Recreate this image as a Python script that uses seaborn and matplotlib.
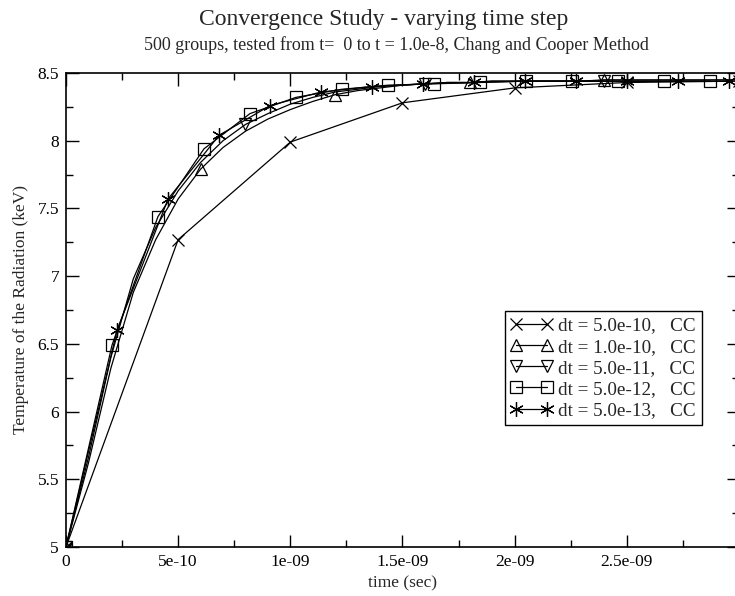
import numpy as np
import pandas as pd
import matplotlib
matplotlib.use("Agg")
import matplotlib.pyplot as plt
from matplotlib.lines import Line2D
from matplotlib.ticker import FixedLocator, MultipleLocator, FuncFormatter
import seaborn as sns

# --- data: radiation temperature (keV) vs time (s) for several time steps ---
t_dt1 = [0.0, 0.5e-9, 1.0e-9, 1.5e-9, 2.0e-9, 2.5e-9, 3.0e-9]
T_dt1 = [5.00, 7.27, 7.99, 8.28, 8.39, 8.43, 8.44]

t_dt2 = [i * 1.0e-10 for i in range(31)]
T_dt2 = [5.00, 5.62, 6.32, 6.88, 7.27, 7.57, 7.79, 7.95, 8.07, 8.16,
         8.23, 8.29, 8.34, 8.37, 8.39, 8.41, 8.42, 8.43, 8.43, 8.44,
         8.44, 8.44, 8.44, 8.44, 8.45, 8.45, 8.45, 8.45, 8.45, 8.45, 8.45]
mark_dt2 = [0, 6, 12, 18, 24]

t_dt3 = [i * 1.0e-10 for i in range(31)]
T_dt3 = [5.00, 5.66, 6.40, 6.98, 7.36, 7.63, 7.84, 8.00, 8.12, 8.20,
         8.27, 8.32, 8.36, 8.38, 8.40, 8.41, 8.42, 8.43, 8.43, 8.44,
         8.44, 8.44, 8.44, 8.44, 8.44, 8.44, 8.44, 8.44, 8.44, 8.44, 8.44]
mark_dt3 = [0, 8, 16, 24]

t_dt4 = [i * 2.05e-10 for i in range(15)]
T_dt4 = [5.00, 6.49, 7.44, 7.94, 8.20, 8.32, 8.38, 8.41, 8.42, 8.43,
         8.44, 8.44, 8.44, 8.44, 8.44]

t_dt5 = [i * 2.275e-10 for i in range(14)]
T_dt5 = [5.00, 6.60, 7.57, 8.04, 8.26, 8.36, 8.40, 8.42, 8.43, 8.44,
         8.44, 8.44, 8.44, 8.44]

labels = ["dt = 5.0e-10,   CC", "dt = 1.0e-10,   CC", "dt = 5.0e-11,   CC",
          "dt = 5.0e-12,   CC", "dt = 5.0e-13,   CC"]

xticks = [0.0, 0.5e-9, 1.0e-9, 1.5e-9, 2.0e-9, 2.5e-9, 3.0e-9]
xtick_labels = ["0", "5e-10", "1e-09", "1.5e-09", "2e-09", "2.5e-09", ""]
yticks = [5, 5.5, 6, 6.5, 7, 7.5, 8, 8.5]

sns.set_theme(style="ticks")
plt.rcParams["font.family"] = ["Liberation Serif", "DejaVu Serif"]

fig = plt.figure(figsize=(7.35, 5.96), dpi=100)
ax = fig.add_axes([66 / 735, 49 / 596, (739 - 66) / 735, 474 / 596])
ax.set_facecolor("white")

asterisk = (6, 2, 0)
styles = [
    dict(marker="x", ms=8.5, mew=0.9),
    dict(marker="^", ms=8.5, mew=0.9),
    dict(marker="v", ms=8.5, mew=0.9),
    dict(marker="s", ms=8.0, mew=0.9),
    dict(marker=asterisk, ms=10.5, mew=0.9),
]

series = [
    (t_dt1, T_dt1, None),
    (t_dt2, T_dt2, mark_dt2),
    (t_dt3, T_dt3, mark_dt3),
    (t_dt4, T_dt4, None),
    (t_dt5, T_dt5, None),
]

handles = []
for (t, T, mk), st, lab in zip(series, styles, labels):
    df = pd.DataFrame({"t": t, "T": T})
    sns.lineplot(data=df, x="t", y="T", ax=ax, color="black", lw=0.9,
                 estimator=None, sort=False, markevery=mk,
                 mfc="none", mec="black", **st)
    handles.append(Line2D([0], [0], color="black", lw=0.9, mfc="none",
                          mec="black", **st))

ax.set_xlim(0, 3.0e-9)
ax.set_ylim(5, 8.5)

ax.xaxis.set_major_locator(FixedLocator(xticks))
ax.xaxis.set_major_formatter(FuncFormatter(
    lambda v, p: xtick_labels[min(range(len(xticks)), key=lambda i: abs(xticks[i] - v))]))
ax.xaxis.set_minor_locator(MultipleLocator(2.5e-10))
ax.yaxis.set_major_locator(FixedLocator(yticks))
ax.yaxis.set_major_formatter(FuncFormatter(lambda v, p: f"{v:g}"))
ax.yaxis.set_minor_locator(MultipleLocator(0.25))

ax.tick_params(which="both", direction="in", top=True, right=True,
               colors="black", labelsize=12.5, width=1.0)
ax.tick_params(which="major", length=9, pad=5)
ax.tick_params(which="minor", length=5)
for s in ax.spines.values():
    s.set_color("black")
    s.set_linewidth(1.2)

ax.set_xlabel("time (sec)", fontsize=12.5, labelpad=4)
ax.set_ylabel("Temperature of the Radiation (keV)", fontsize=12.5, labelpad=6)

leg = ax.legend(handles, labels, loc="lower right",
                bbox_to_anchor=(0.945, 0.257), borderaxespad=0,
                numpoints=2, handlelength=2.2, handletextpad=0.3,
                labelspacing=0.2, fontsize=13.8, frameon=True,
                fancybox=False, framealpha=1, edgecolor="black",
                borderpad=0.3)
leg.get_frame().set_linewidth(1.0)

fig.text(384 / 735, 1 - 19 / 596, "Convergence Study - varying time step",
         ha="center", va="center", fontsize=17)
fig.text(396 / 735, 1 - 45 / 596,
         "500 groups, tested from t=  0 to t = 1.0e-8, Chang and Cooper Method",
         ha="center", va="center", fontsize=13)

fig.savefig("out.png", dpi=100, facecolor="white")
